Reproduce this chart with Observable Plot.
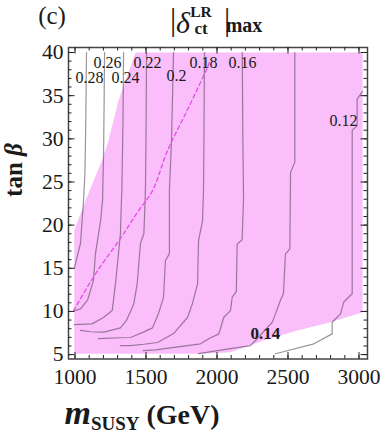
<!DOCTYPE html>
<html><head><meta charset="utf-8">
<script src="https://cdn.jsdelivr.net/npm/d3@7"></script>
<script src="https://cdn.jsdelivr.net/npm/@observablehq/plot@0.6"></script>
<style>
body{margin:0;background:#fff;}
#wrap{position:relative;width:387px;height:436px;}
</style></head><body><div id="wrap"></div>
<script>
const FONT = "Liberation Serif, Times New Roman, serif";

// tick labels
const mSusyTicks = [1000, 1500, 2000, 2500, 3000];
const tanBetaTicks = [5, 10, 15, 20, 25, 30, 35, 40];

// shaded (allowed) region outline: m_SUSY, tan beta
const regionM = [1426, 1356, 1306, 1236, 1190, 1074, 995, 995, 1880, 2095, 2327, 2567, 2799, 3025, 3025];
const regionT = [40, 36.75, 34.4, 29.8, 27.5, 22.85, 19.4, 5.1, 5.1, 5.27, 6.63, 7.8, 8.75, 9.9, 40];

// dashed magenta curve
const dashM = [990, 1150, 1320, 1440, 1546, 1651, 1799, 1933, 1950];
const dashT = [10.1, 14.5, 18.45, 21.5, 24.0, 28.6, 33.6, 38.3, 39.0];

// contour levels and their paths [m_SUSY, tan beta]
const levels = ["0.28", "0.26", "0.24", "0.22", "0.2", "0.18", "0.16", "0.14", "0.12"];
const c028 = [[1081,40],[1076,32],[1070,26],[1060,22.85],[1039,17.9],[995,15.0]];
const c026 = [[1208,40],[1205,34],[1201,28],[1194,22.85],[1180,20.5],[1144,16.7],[1130,13.6],[1088,11.3],[1039,10.3],[995,10.1]];
const c024 = [[1342,40],[1338,32],[1330,24],[1327,22.85],[1320,19.0],[1285,13.2],[1262,10.1],[1203,9.33],[1121,8.56],[995,8.48]];
const c022 = [[1504,40],[1500,30],[1496,24],[1485,19],[1461,17.9],[1438,13.2],[1414,10.9],[1391,10.0],[1360,8.9],[1320,8.1],[1203,7.6],[1110,7.65],[1039,7.8]];
const c020 = [[1694,40],[1680,30],[1665,24],[1665,16.7],[1637,15.9],[1623,11.6],[1588,9.76],[1546,8.1],[1482,7.6],[1391,6.98],[1320,6.95],[1165,6.85]];
const c018 = [[1912,40],[1908,30],[1905,24],[1898,20.5],[1870,18.2],[1863,13.2],[1827,10.9],[1792,9.3],[1694,7.44],[1581,6.4],[1485,6.2],[1391,6.05],[1320,6.05]];
const c016 = [[2178,40],[2182,30],[2187,23],[2177,18.3],[2142,17.8],[2136,12.3],[2107,11.65],[2095,10.1],[2048,9.33],[2013,7.4],[1942,6.83],[1884,6.25],[1567,5.55],[1480,5.47]];
const c014 = [[2548,40],[2548,27.3],[2518,26.1],[2513,17.25],[2482,16.65],[2468,12.05],[2447,11.3],[2412,9.72],[2389,8.75],[2271,6.63],[2236,6.05],[2095,5.7],[1870,5.12]];
const c012 = [[3025,35.5],[2987,34.6],[2987,31.5],[2952,31.0],[2952,12.05],[2893,11.1],[2870,9.72],[2811,8.75],[2811,7.4],[2682,6.25],[2412,5.1]];
const contourPaths = [c028, c026, c024, c022, c020, c018, c016, c014, c012];

// contour labels
const labelText = ["0.28", "0.26", "0.24", "0.22", "0.2", "0.18", "0.16", "0.12", "0.14"];
const labelM = [1102, 1229, 1356, 1511, 1715, 1905, 2180, 2891, 2341];
const labelT = [37.1, 38.84, 37.1, 38.84, 37.3, 38.84, 38.84, 32.1, 7.44];
const labelBold = [false, false, false, false, false, false, false, false, true];

const region = regionM.map((m, i) => ({m, t: regionT[i]}));
const dash = dashM.map((m, i) => ({m, t: dashT[i]}));
const rows = contourPaths.flatMap((pts, i) => pts.map(([m, t]) => ({level: levels[i], m, t})));
const labels = labelText.map((s, i) => ({s, m: labelM[i], t: labelT[i], b: labelBold[i]}));

const W = 387, H = 436, mL = 68, mR = 20, mT = 47, mB = 77.5;
const fw = W - mL - mR, fh = H - mT - mB;
const xMinor = d3.range(1000, 3001, 100);
const yMinor = d3.range(5, 41, 1);
const tk = "#222";

const svg = Plot.plot({
  width: W, height: H,
  marginLeft: mL, marginRight: mR, marginTop: mT, marginBottom: mB,
  x: {domain: [954.2, 3059.9], label: null},
  y: {domain: [4.49, 40.58], label: null},
  style: {fontFamily: FONT, fontSize: "21.5px", color: "#1a1a1a", background: "white", overflow: "visible"},
  marks: [
    Plot.line(region, {x: "m", y: "t", fill: "#fabefa", stroke: "none", clip: true}),
    Plot.line(rows, {x: "m", y: "t", z: "level", stroke: "#4a3a4a", strokeOpacity: 0.55, strokeWidth: 1.2, clip: true}),
    Plot.line(dash, {x: "m", y: "t", curve: "catmull-rom", stroke: "#e64ce6", strokeWidth: 1.3, strokeDasharray: "4,3", clip: true}),
    Plot.text(labels.filter(d => !d.b), {x: "m", y: "t", text: "s", fontSize: 16, fontFamily: FONT, fill: "#1a1a1a"}),
    Plot.text(labels.filter(d => d.b), {x: "m", y: "t", text: "s", fontSize: 17, fontWeight: "bold", fontFamily: FONT, fill: "#1a1a1a"}),
    Plot.frame({stroke: "#444", strokeWidth: 1.5}),
    Plot.tickX(xMinor, {x: d => d, insetTop: fh - 3.5, stroke: tk}),
    Plot.tickX(mSusyTicks, {x: d => d, insetTop: fh - 6.5, stroke: tk}),
    Plot.tickX(xMinor, {x: d => d, insetBottom: fh - 3.5, stroke: tk}),
    Plot.tickX(mSusyTicks, {x: d => d, insetBottom: fh - 6.5, stroke: tk}),
    Plot.tickY(yMinor, {y: d => d, insetRight: fw - 3.5, stroke: tk}),
    Plot.tickY(tanBetaTicks, {y: d => d, insetRight: fw - 6.5, stroke: tk}),
    Plot.tickY(yMinor, {y: d => d, insetLeft: fw - 3.5, stroke: tk}),
    Plot.tickY(tanBetaTicks, {y: d => d, insetLeft: fw - 6.5, stroke: tk}),
    Plot.axisX({ticks: mSusyTicks, tickSize: 0, tickPadding: 10, tickFormat: d => String(d), fontSize: 21.5, fontFamily: FONT}),
    Plot.axisY({ticks: tanBetaTicks, tickSize: 0, tickPadding: 5, tickFormat: d => String(d), fontSize: 21.5, fontFamily: FONT})
  ]
});
document.getElementById("wrap").appendChild(svg);

// titles
const s = d3.select(svg);
const g = s.append("g").attr("font-family", FONT).attr("fill", "#1a1a1a");
g.append("text").attr("x", 52).attr("y", 24).attr("font-size", 25).text("(c)");

const tt = g.append("text");
tt.append("tspan").attr("x", 173).attr("y", 30).attr("font-size", 31).text("|");
tt.append("tspan").attr("x", 183).attr("y", 33).attr("font-size", 30).attr("font-style", "italic").text("δ");
tt.append("tspan").attr("x", 201).attr("y", 17).attr("font-size", 15.5).attr("font-weight", "bold").text("LR");
tt.append("tspan").attr("x", 201).attr("y", 34).attr("font-size", 17).attr("font-weight", "bold").text("ct");
tt.append("tspan").attr("x", 227).attr("y", 30).attr("font-size", 31).text("|");
tt.append("tspan").attr("x", 244).attr("y", 32).attr("font-size", 20).attr("font-weight", "bold").text("max");

const yt = g.append("text").attr("transform", "translate(22,170) rotate(-90)").attr("text-anchor", "middle")
  .attr("font-size", 25).attr("font-weight", "bold");
yt.append("tspan").text("tan ");
yt.append("tspan").attr("font-style", "italic").text("β");

const xt = g.append("text").attr("x", 142).attr("y", 424).attr("font-weight", "bold");
xt.append("tspan").attr("font-size", 34).attr("font-style", "italic").text("m");
xt.append("tspan").attr("font-size", 19).attr("dy", 6).text("SUSY");
xt.append("tspan").attr("font-size", 28).attr("dy", -6).text(" (GeV)");
</script></body></html>
